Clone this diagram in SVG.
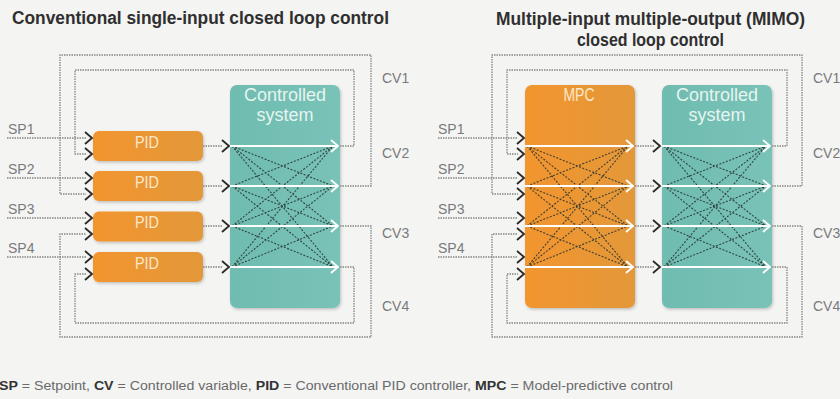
<svg xmlns="http://www.w3.org/2000/svg" width="840" height="399" viewBox="0 0 840 399">
  <style>
    .title { font-family: "Liberation Sans", Arial, sans-serif; font-weight: bold; font-size: 18px; fill: #2f2f2f; }
    .lbl { font-family: "Liberation Sans", Arial, sans-serif; font-size: 14px; fill: #7a7a7a; }
    .boxtxt { font-family: "Liberation Sans", Arial, sans-serif; font-size: 18px; text-anchor: middle; }
    .pidtxt { font-family: "Liberation Sans", Arial, sans-serif; font-size: 17px; text-anchor: middle; fill: #fbe8cc; }
    .legend { font-family: "Liberation Sans", Arial, sans-serif; font-size: 12.5px; fill: #6a6a6a; }
    .legend .b { font-weight: bold; fill: #333; }
    .loop { fill: none; stroke: #858585; stroke-width: 1.3; stroke-dasharray: 1.5 1; }
    .cross { fill: none; stroke: #24302d; stroke-width: 1.1; stroke-dasharray: 2 1.5; opacity: 0.85; }
    .flow { fill: none; stroke: #ffffff; stroke-width: 2; }
    .chev { fill: none; stroke: #2a2a2a; stroke-width: 1.8; stroke-linejoin: miter; }
    .wchev { fill: none; stroke: #ffffff; stroke-width: 1.8; }
  </style>
  <defs>
    <linearGradient id="orange" x1="0" y1="0" x2="1" y2="0">
      <stop offset="0" stop-color="#f2952e"/>
      <stop offset="1" stop-color="#e3983a"/>
    </linearGradient>
    <linearGradient id="teal" x1="0" y1="0" x2="1" y2="0">
      <stop offset="0" stop-color="#6fbcb0"/>
      <stop offset="1" stop-color="#79c2b7"/>
    </linearGradient>
    <filter id="shadow" x="-10%" y="-10%" width="130%" height="130%">
      <feDropShadow dx="1" dy="1.5" stdDeviation="1.5" flood-color="#000" flood-opacity="0.22"/>
    </filter>
    <path id="chev" class="chev" d="M-7,-6 L0,0 L-7,6"/>
    <path id="wchev" class="wchev" d="M-7,-6 L0,0 L-7,6"/>
  </defs>

  <rect width="840" height="399" fill="#f4f4f3"/>

  <!-- headings -->
  <text class="title" x="12" y="24" textLength="377" lengthAdjust="spacingAndGlyphs">Conventional single-input closed loop control</text>
  <text class="title" x="496" y="25" textLength="309" lengthAdjust="spacingAndGlyphs">Multiple-input multiple-output (MIMO)</text>
  <text class="title" x="577" y="46" textLength="147" lengthAdjust="spacingAndGlyphs">closed loop control</text>

  <!-- ============ left: single-input loops ============ -->
  <g id="left-cs">
    <rect x="230" y="85" width="110" height="223" rx="7" fill="url(#teal)" filter="url(#shadow)"/>
    <text class="boxtxt" x="285" y="101" fill="#e6f4f0">Controlled</text>
    <text class="boxtxt" x="285" y="121" fill="#e6f4f0">system</text>
  </g>
  <g id="pid1">
    <rect x="93" y="131" width="110" height="30" rx="6" fill="url(#orange)" filter="url(#shadow)"/>
    <text class="pidtxt" x="147" y="147.5" textLength="24" lengthAdjust="spacingAndGlyphs">PID</text>
  </g>
  <g id="pid2">
    <rect x="93" y="171" width="110" height="30" rx="6" fill="url(#orange)" filter="url(#shadow)"/>
    <text class="pidtxt" x="147" y="187.5" textLength="24" lengthAdjust="spacingAndGlyphs">PID</text>
  </g>
  <g id="pid3">
    <rect x="93" y="211.5" width="110" height="30" rx="6" fill="url(#orange)" filter="url(#shadow)"/>
    <text class="pidtxt" x="147" y="228" textLength="24" lengthAdjust="spacingAndGlyphs">PID</text>
  </g>
  <g id="pid4">
    <rect x="93" y="252" width="110" height="30" rx="6" fill="url(#orange)" filter="url(#shadow)"/>
    <text class="pidtxt" x="147" y="268.5" textLength="24" lengthAdjust="spacingAndGlyphs">PID</text>
  </g>

  <g id="left-labels">
    <text class="lbl" x="8" y="134">SP1</text>
    <text class="lbl" x="8" y="174">SP2</text>
    <text class="lbl" x="8" y="214">SP3</text>
    <text class="lbl" x="8" y="253">SP4</text>
    <text class="lbl" x="382" y="83">CV1</text>
    <text class="lbl" x="382" y="158">CV2</text>
    <text class="lbl" x="382" y="238">CV3</text>
    <text class="lbl" x="382" y="311">CV4</text>
  </g>

  <g id="left-connectors">
    <!-- setpoints -->
    <path class="loop" d="M7,138 H86 M7,178 H86 M7,218 H86 M7,257 H86"/>
    <!-- feedback loops -->
    <path class="loop" d="M340,146 H354 V70 H75 V154 H86"/>
    <path class="loop" d="M340,186 H371 V55 H60 V194 H86"/>
    <path class="loop" d="M340,226 H371 V337 H60 V234 H86"/>
    <path class="loop" d="M340,267 H354 V323 H75 V274 H86"/>
    <!-- PID outputs -->
    <path class="loop" d="M203,146 H223 M203,186 H223 M203,226 H223 M203,267 H223"/>
    <!-- cross coupling -->
    <path class="cross" d="M232,146 L333,186 M232,146 L333,226 M232,146 L333,267
      M232,186 L333,146 M232,186 L333,226 M232,186 L333,267
      M232,226 L333,146 M232,226 L333,186 M232,226 L333,267
      M232,267 L333,146 M232,267 L333,186 M232,267 L333,226"/>
    <path class="flow" d="M230,146 H337 M230,186 H337 M230,226 H337 M230,267 H337"/>
    <use href="#wchev" x="338" y="146"/>
    <use href="#wchev" x="338" y="186"/>
    <use href="#wchev" x="338" y="226"/>
    <use href="#wchev" x="338" y="267"/>
    <use href="#chev" x="92" y="138"/>
    <use href="#chev" x="92" y="154"/>
    <use href="#chev" x="92" y="178"/>
    <use href="#chev" x="92" y="194"/>
    <use href="#chev" x="92" y="218"/>
    <use href="#chev" x="92" y="234"/>
    <use href="#chev" x="92" y="257"/>
    <use href="#chev" x="92" y="274"/>
    <use href="#chev" x="229" y="146"/>
    <use href="#chev" x="229" y="186"/>
    <use href="#chev" x="229" y="226"/>
    <use href="#chev" x="229" y="267"/>
  </g>

  <!-- ============ right: MIMO loop ============ -->
  <g id="mpc">
    <rect x="525" y="85" width="110" height="223" rx="7" fill="url(#orange)" filter="url(#shadow)"/>
    <text class="boxtxt" x="579" y="101" fill="#fbe8cc" font-size="16" textLength="31" lengthAdjust="spacingAndGlyphs">MPC</text>
  </g>
  <g id="right-cs">
    <rect x="662" y="85" width="110" height="223" rx="7" fill="url(#teal)" filter="url(#shadow)"/>
    <text class="boxtxt" x="717" y="101" fill="#e6f4f0">Controlled</text>
    <text class="boxtxt" x="717" y="121" fill="#e6f4f0">system</text>
  </g>

  <g id="right-labels">
    <text class="lbl" x="438" y="134">SP1</text>
    <text class="lbl" x="438" y="174">SP2</text>
    <text class="lbl" x="438" y="214">SP3</text>
    <text class="lbl" x="438" y="253">SP4</text>
    <text class="lbl" x="813" y="83">CV1</text>
    <text class="lbl" x="813" y="158">CV2</text>
    <text class="lbl" x="813" y="238">CV3</text>
    <text class="lbl" x="813" y="311">CV4</text>
  </g>

  <g id="right-connectors">
    <path class="loop" d="M438,138 H518 M438,178 H518 M438,218 H518 M438,257 H518"/>
    <path class="loop" d="M772,146 H787 V70 H507 V154 H518"/>
    <path class="loop" d="M772,186 H802 V55 H492 V194 H518"/>
    <path class="loop" d="M772,226 H802 V337 H492 V234 H518"/>
    <path class="loop" d="M772,267 H787 V323 H507 V274 H518"/>
    <path class="loop" d="M635,146 H654 M635,186 H654 M635,226 H654 M635,267 H654"/>
    <path class="cross" d="M527,146 L628,186 M527,146 L628,226 M527,146 L628,267
      M527,186 L628,146 M527,186 L628,226 M527,186 L628,267
      M527,226 L628,146 M527,226 L628,186 M527,226 L628,267
      M527,267 L628,146 M527,267 L628,186 M527,267 L628,226"/>
    <path class="cross" d="M664,146 L766,186 M664,146 L766,226 M664,146 L766,267
      M664,186 L766,146 M664,186 L766,226 M664,186 L766,267
      M664,226 L766,146 M664,226 L766,186 M664,226 L766,267
      M664,267 L766,146 M664,267 L766,186 M664,267 L766,226"/>
    <path class="flow" d="M525,146 H632 M525,186 H632 M525,226 H632 M525,267 H632"/>
    <path class="flow" d="M662,146 H769 M662,186 H769 M662,226 H769 M662,267 H769"/>
    <use href="#wchev" x="633" y="146"/>
    <use href="#wchev" x="633" y="186"/>
    <use href="#wchev" x="633" y="226"/>
    <use href="#wchev" x="633" y="267"/>
    <use href="#wchev" x="770" y="146"/>
    <use href="#wchev" x="770" y="186"/>
    <use href="#wchev" x="770" y="226"/>
    <use href="#wchev" x="770" y="267"/>
    <use href="#chev" x="524" y="138"/>
    <use href="#chev" x="524" y="154"/>
    <use href="#chev" x="524" y="178"/>
    <use href="#chev" x="524" y="194"/>
    <use href="#chev" x="524" y="218"/>
    <use href="#chev" x="524" y="234"/>
    <use href="#chev" x="524" y="257"/>
    <use href="#chev" x="524" y="274"/>
    <use href="#chev" x="660" y="146"/>
    <use href="#chev" x="660" y="186"/>
    <use href="#chev" x="660" y="226"/>
    <use href="#chev" x="660" y="267"/>
  </g>

  <!-- key -->
  <text class="legend" x="-1" y="390" textLength="674" lengthAdjust="spacingAndGlyphs"><tspan class="b">SP</tspan> = Setpoint, <tspan class="b">CV</tspan> = Controlled variable, <tspan class="b">PID</tspan> = Conventional PID controller, <tspan class="b">MPC</tspan> = Model-predictive control</text>
</svg>
